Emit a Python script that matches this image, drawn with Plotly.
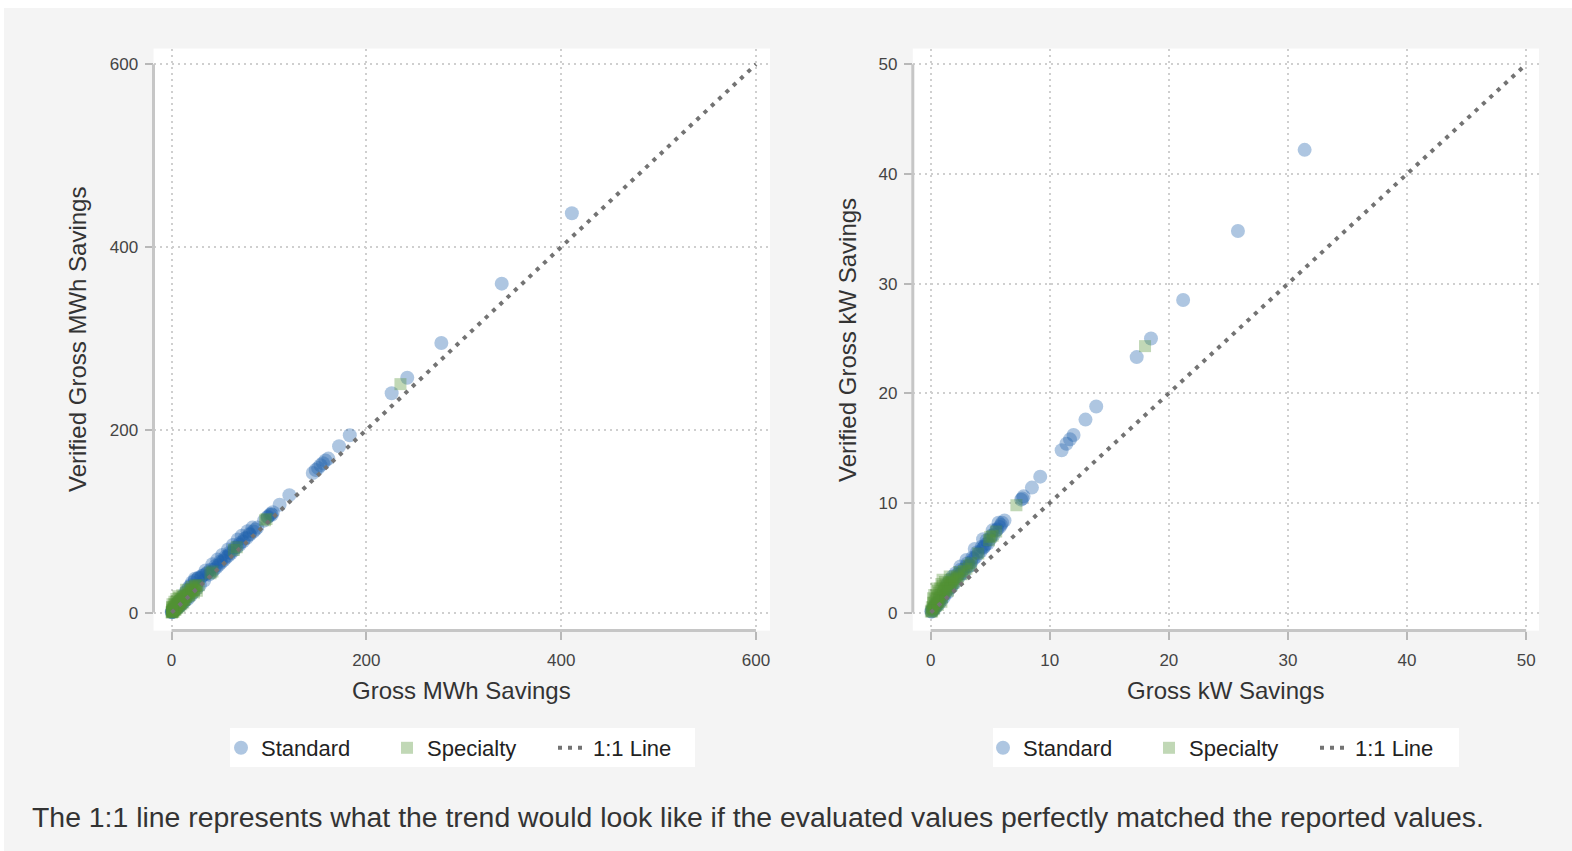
import plotly.graph_objects as go

# ---- Gross vs verified MWh savings ----
mwh_std_gross = [0.2, 0.5, 0.8, 1.0, 1.3, 1.6, 2.0, 2.4, 2.8, 3.1,
                 3.5, 4.0, 4.6, 5.2, 5.9, 6.5, 7.2, 8.0, 8.8, 9.5,
                 10.4, 11.3, 12.1, 13.0, 14.2, 15.5, 16.8, 18.0, 19.6, 21.0,
                 22.5, 24.0, 25.8, 27.5, 29.0, 31.0, 33.5, 36.0, 38.5, 41.0,
                 43.5, 46.0, 48.5, 51.0, 53.5, 56.0, 58.5, 61.0, 64.0, 67.0,
                 70.0, 73.5, 77.0, 80.5, 84.0, 95.0, 98.5, 101.0, 104.0, 111.0,
                 121.0, 145.0, 148.0, 150.5, 153.0, 155.5, 158.0, 161.0, 172.0, 183.0,
                 226.0, 242.0, 277.0, 339.0, 411.0,
                 5.0, 7.0, 9.0, 12.0, 14.0, 16.0, 20.0, 24.0, 27.0, 30.0,
                 33.0, 37.0, 40.0, 45.0, 50.0, 55.0, 60.0, 65.0, 70.0, 75.0,
                 80.0, 86.0, 88.0, 99.0, 102.0, 103.0,
                 35.0, 42.0, 47.0, 52.0, 58.0, 63.0, 68.0, 72.0, 78.0, 83.0]
mwh_std_verified = [0.3, 0.9, 0.6, 1.8, 1.1, 2.4, 1.7, 3.2, 2.5, 4.1,
                    3.0, 5.2, 3.9, 6.8, 5.0, 7.9, 6.1, 9.6, 7.7, 11.8,
                    9.4, 13.6, 11.0, 15.9, 13.1, 18.4, 15.2, 28.0, 18.3, 33.0,
                    22.1, 37.0, 26.2, 38.0, 30.0, 40.0, 35.1, 42.5, 41.5, 43.8,
                    46.9, 49.2, 52.0, 54.8, 57.1, 59.9, 62.3, 65.0, 68.1, 71.4,
                    74.3, 77.9, 81.6, 85.3, 88.7, 100.6, 104.2, 106.8, 109.9, 118.0,
                    128.5, 152.8, 156.0, 158.3, 161.2, 163.5, 166.4, 168.5, 182.0, 194.0,
                    240.0, 257.0, 295.0, 360.0, 437.0,
                    9.0, 12.0, 14.0, 18.0, 22.0, 25.0, 30.0, 35.0, 37.0, 38.0,
                    41.0, 44.0, 47.0, 51.0, 56.0, 61.0, 66.0, 71.0, 76.0, 81.0,
                    86.0, 91.0, 93.0, 105.0, 108.0, 107.0,
                    46.0, 53.0, 58.0, 63.0, 69.0, 74.0, 80.0, 84.0, 89.0, 93.0]

mwh_spc_gross = [0.1, 0.3, 0.6, 0.9, 1.2, 1.5, 1.9, 2.3, 2.7, 3.2,
                 3.7, 4.3, 4.9, 5.5, 6.2, 7.0, 7.8, 8.6, 9.5, 10.5,
                 11.5, 12.6, 13.8, 15.0, 16.3, 17.7, 19.2, 21.0, 23.0, 25.5,
                 28.0, 40.0, 42.0, 64.0, 67.0, 96.0, 97.5, 235.0, 3.0, 5.0,
                 8.0, 11.0,
                 0.5, 1.0, 2.0, 3.0, 4.0, 6.0, 7.0, 9.0, 10.0, 12.0,
                 13.0, 14.0, 15.0, 17.0, 18.0, 20.0, 22.0, 24.0, 26.0, 2.0,
                 4.0, 6.0, 8.0, 10.0, 12.0,
                 1.0, 3.0, 5.0, 7.0, 15.0, 19.0, 21.0, 23.0, 25.0, 0.5]
mwh_spc_verified = [0.2, 0.8, 0.4, 1.6, 1.0, 2.6, 2.0, 3.4, 3.9, 3.0,
                    5.5, 4.6, 7.2, 6.0, 8.8, 7.4, 10.9, 9.3, 12.7, 11.2,
                    14.0, 13.9, 15.2, 17.0, 17.9, 19.5, 20.8, 23.2, 24.6, 27.1,
                    29.8, 43.0, 45.0, 68.5, 71.5, 101.0, 102.5, 250.0, 9.0, 12.0,
                    16.0, 19.0,
                    3.0, 5.0, 6.0, 4.0, 8.0, 10.0, 9.0, 13.0, 15.0, 17.0,
                    14.0, 18.0, 21.0, 22.0, 19.0, 26.0, 25.0, 29.0, 24.0, 1.0,
                    3.0, 5.0, 7.0, 9.0, 11.0,
                    9.0, 12.0, 15.0, 18.0, 25.0, 24.0, 28.0, 22.0, 30.0, 6.0]

# ---- Gross vs verified kW savings ----
kw_std_gross = [0.05, 0.1, 0.15, 0.2, 0.3, 0.35, 0.45, 0.5, 0.6, 0.7,
                0.8, 0.9, 1.0, 1.1, 1.25, 1.4, 1.55, 1.7, 1.85, 2.0,
                2.2, 2.4, 2.6, 2.8, 3.0, 3.2, 3.4, 3.6, 3.8, 4.0,
                4.2, 4.4, 4.6, 4.8, 5.0, 5.3, 5.6, 5.9, 6.2, 7.6,
                7.8, 8.5, 9.2, 11.0, 11.4, 11.7, 12.0, 13.0, 13.9, 17.3,
                18.5, 21.2, 25.8, 31.4, 1.6, 1.85, 2.1, 2.5,
                0.4, 0.8, 1.2, 1.4, 1.8, 2.3, 2.7, 3.1, 3.5, 3.9,
                4.3, 4.7, 5.1, 5.5, 5.8, 6.0, 7.7, 4.5, 3.3,
                2.5, 3.0, 3.7, 4.4, 5.2, 5.7]
kw_std_verified = [0.1, 0.1, 0.3, 0.2, 0.5, 0.4, 0.7, 0.6, 0.9, 0.8,
                   1.2, 1.1, 1.5, 1.4, 1.8, 1.8, 2.2, 2.3, 2.6, 2.7,
                   3.2, 3.3, 3.6, 3.6, 4.2, 4.2, 4.6, 4.9, 5.1, 5.4,
                   5.6, 5.9, 6.2, 6.3, 6.7, 7.1, 7.6, 8.0, 8.4, 10.3,
                   10.6, 11.4, 12.4, 14.8, 15.4, 15.8, 16.2, 17.6, 18.8, 23.3,
                   25.0, 28.5, 34.8, 42.2, 3.0, 3.3, 3.6, 3.9,
                   0.8, 1.5, 2.2, 2.6, 2.9, 3.5, 3.9, 4.5, 5.0, 5.5,
                   6.0, 6.6, 7.0, 7.5, 7.8, 8.2, 10.4, 6.0, 4.3,
                   4.2, 4.8, 5.8, 6.7, 7.5, 8.2]

kw_spc_gross = [0.02, 0.08, 0.12, 0.2, 0.25, 0.3, 0.4, 0.5, 0.55, 0.65,
                0.75, 0.85, 0.95, 1.05, 1.15, 1.3, 1.45, 1.6, 1.75, 1.9,
                2.1, 2.3, 2.6, 3.2, 3.4, 4.9, 5.2, 7.2, 18.0, 0.3,
                0.6, 0.9, 1.2,
                0.1, 0.2, 0.4, 0.5, 0.7, 0.8, 1.0, 1.1, 1.3, 1.4,
                1.5, 1.7, 1.8, 2.0, 2.2, 0.3, 0.6, 0.9, 3.0, 4.0,
                5.0, 5.5,
                0.2, 0.5, 1.0, 1.6, 2.4, 2.8]
kw_spc_verified = [0.1, 0.2, 0.1, 0.5, 0.3, 0.9, 0.6, 0.8, 1.3, 1.0,
                   1.2, 1.6, 1.4, 1.7, 1.9, 2.1, 2.0, 2.4, 2.5, 2.7,
                   2.9, 3.1, 3.5, 4.3, 4.5, 6.6, 7.0, 9.8, 24.3, 1.6,
                   2.0, 2.6, 2.8,
                   0.5, 0.9, 1.2, 1.5, 1.8, 2.2, 2.4, 2.0, 2.5, 2.3,
                   2.7, 2.8, 3.0, 3.1, 3.3, 0.4, 0.7, 1.0, 4.0, 5.4,
                   6.9, 7.4,
                   1.3, 2.2, 3.0, 3.3, 3.7, 3.8]

mwh_ticks = [0, 200, 400, 600]
kw_ticks = [0, 10, 20, 30, 40, 50]
mwh_line = [0, 600]
kw_line = [0, 50]

FONT = "Liberation Sans, Arial, sans-serif"
STD_COLOR = "rgb(30, 96, 172)"
SPC_COLOR = "rgb(84, 146, 52)"
LINE_COLOR = "#737373"
PANEL_BG = "#f4f4f4"

fig = go.Figure()


def add_panel(xs, ys, xp, yp, line, suffix, legend):
    xa = "x" + suffix
    ya = "y" + suffix
    fig.add_trace(go.Scatter(
        x=xs, y=ys, mode="markers", name="Standard",
        xaxis=xa, yaxis=ya, legend=legend,
        marker=dict(symbol="circle", size=14, color=STD_COLOR,
                    opacity=0.36, line=dict(width=0)),
        hoverinfo="x+y"))
    fig.add_trace(go.Scatter(
        x=xp, y=yp, mode="markers", name="Specialty",
        xaxis=xa, yaxis=ya, legend=legend,
        marker=dict(symbol="square", size=12, color=SPC_COLOR,
                    opacity=0.36, line=dict(width=0)),
        hoverinfo="x+y"))
    fig.add_trace(go.Scatter(
        x=line, y=line, mode="lines", name="1:1 Line",
        xaxis=xa, yaxis=ya, legend=legend,
        line=dict(color=LINE_COLOR, width=4, dash="4px,6px"),
        hoverinfo="skip"))


add_panel(mwh_std_gross, mwh_std_verified, mwh_spc_gross, mwh_spc_verified,
          mwh_line, "", "legend")
add_panel(kw_std_gross, kw_std_verified, kw_spc_gross, kw_spc_verified,
          kw_line, "2", "legend2")

axis_common = dict(
    showline=False, zeroline=False, showgrid=True,
    gridcolor="#cfcfcf", gridwidth=1.5, griddash="2px,4px",
    ticks="outside", ticklen=8, tickwidth=1.5, tickcolor="#b8b8b8",
    tickfont=dict(family=FONT, size=17, color="#444444"),
    automargin=False, fixedrange=True,
)

Y_DOMAIN = [0.259, 0.943]

fig.update_layout(
    width=1572, height=851,
    margin=dict(l=0, r=0, t=0, b=0),
    paper_bgcolor=PANEL_BG, plot_bgcolor="white",
    font=dict(family=FONT, color="#333333"),
    showlegend=True,
    xaxis=dict(domain=[0.09765, 0.48982], range=[-18.5, 614.4],
               tickvals=mwh_ticks, anchor="y", ticklabelstandoff=6, **axis_common),
    yaxis=dict(domain=Y_DOMAIN, range=[-19.7, 617.3],
               tickvals=mwh_ticks, anchor="x", ticklabelstandoff=3, **axis_common),
    xaxis2=dict(domain=[0.58066, 0.97901], range=[-1.5, 51.08],
                tickvals=kw_ticks, anchor="y2", ticklabelstandoff=6, **axis_common),
    yaxis2=dict(domain=Y_DOMAIN, range=[-1.64, 51.44],
                tickvals=kw_ticks, anchor="x2", ticklabelstandoff=3, **axis_common),
)

legend_common = dict(
    orientation="h", xanchor="left", yanchor="middle",
    bgcolor="rgba(0,0,0,0)", borderwidth=0,
    font=dict(family=FONT, size=22, color="#222222"),
    entrywidth=121, entrywidthmode="pixels",
    itemclick=False, itemdoubleclick=False,
)
fig.update_layout(
    legend=dict(x=221 / 1572, y=1 - 748 / 851, **legend_common),
    legend2=dict(x=983 / 1572, y=1 - 748 / 851, **legend_common),
)

shapes = [
    # white page edge around the grey panel
    dict(type="rect", xref="paper", yref="paper", x0=0, x1=1,
         y0=1 - 8 / 851, y1=1, fillcolor="white", line_width=0, layer="below"),
    dict(type="rect", xref="paper", yref="paper", x0=0, x1=4 / 1572,
         y0=0, y1=1, fillcolor="white", line_width=0, layer="below"),
    # legend boxes
    dict(type="rect", xref="paper", yref="paper", x0=230 / 1572, x1=695 / 1572,
         y0=1 - 767 / 851, y1=1 - 728 / 851, fillcolor="white", line_width=0,
         layer="below"),
    dict(type="rect", xref="paper", yref="paper", x0=993 / 1572, x1=1459 / 1572,
         y0=1 - 767 / 851, y1=1 - 728 / 851, fillcolor="white", line_width=0,
         layer="below"),
]

# axis lines spanning only the labelled tick range
for suffix, ticks in (("", mwh_ticks), ("2", kw_ticks)):
    shapes.append(dict(type="line", xref="x" + suffix + " domain", yref="y" + suffix,
                       x0=0, x1=0, y0=ticks[0], y1=ticks[-1],
                       line=dict(color="#c6c6c6", width=3), layer="above"))
    shapes.append(dict(type="line", xref="x" + suffix, yref="y" + suffix + " domain",
                       x0=ticks[0], x1=ticks[-1], y0=0, y1=0,
                       line=dict(color="#c6c6c6", width=3), layer="above"))
fig.update_layout(shapes=shapes)

title_font = dict(family=FONT, size=24, color="#333333")
annotations = [
    dict(text="Gross MWh Savings", x=461 / 1572, y=1 - 690 / 851),
    dict(text="Gross kW Savings", x=1225 / 1572, y=1 - 690 / 851),
    dict(text="Verified Gross MWh Savings", x=77 / 1572, y=1 - 340 / 851, textangle=-90),
    dict(text="Verified Gross kW Savings", x=847 / 1572, y=1 - 340 / 851, textangle=-90),
]
for a in annotations:
    a.update(xref="paper", yref="paper", showarrow=False, font=title_font,
             xanchor="center", yanchor="middle")
annotations.append(dict(
    text="The 1:1 line represents what the trend would look like if the evaluated "
         "values perfectly matched the reported values.",
    xref="paper", yref="paper", x=30 / 1572, y=1 - 817 / 851,
    xanchor="left", yanchor="middle", showarrow=False,
    font=dict(family=FONT, size=28.4, color="#333333")))
fig.update_layout(annotations=annotations)

fig.write_html("out.html", config={"displayModeBar": False})
